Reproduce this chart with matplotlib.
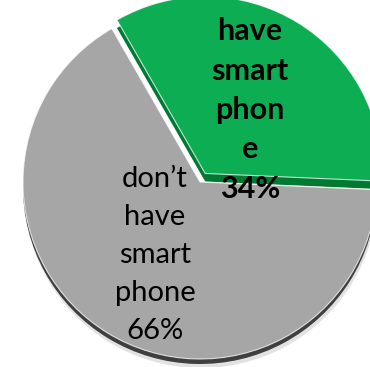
import matplotlib
matplotlib.use("Agg")
import matplotlib.pyplot as plt

# smartphone ownership split
names = ["have\nsmart\nphon\ne", "don\u2019t\nhave\nsmart\nphone"]
shares = [34, 66]
top_colors = ["#0DAE53", "#A6A6A6"]
side_colors = ["#007A32", "#3F3F3F"]
label_weights = ["bold", "normal"]
label_sizes = [22, 21]

W, H = 370, 367
fig = plt.figure(figsize=(W / 100, H / 100), dpi=100)
ax = fig.add_axes([0, 0, 1, 1])

cx, cy = 200, 185
radius = 177
start = -2.5
explode = [10, 0]  # data units (pixels here)

def draw_pie(center, colors, **wprops):
    wedges, _ = ax.pie(shares, center=center, radius=radius, startangle=start,
                       explode=explode, colors=colors, wedgeprops=wprops)
    return wedges

# soft shadow and the thick "3d" sides, then the top faces
shadow = draw_pie((cx + 1, cy - 9), ["#e2e2e2"] * 2, linewidth=0)
gray_side = draw_pie((cx, cy - 5), side_colors, linewidth=0)
green_side = draw_pie((cx, cy - 8), side_colors, linewidth=0)
tops = draw_pie((cx, cy), top_colors, linewidth=0.8, edgecolor=(1, 1, 1, 0.75))

for w in shadow:
    w.set_zorder(1)
gray_side[0].set_visible(False)
gray_side[1].set_zorder(2)
green_side[1].set_visible(False)
green_side[0].set_zorder(3)
tops[1].set_zorder(4)
tops[0].set_zorder(5)

label_pos = [(250, 257), (155, 112)]
for name, share, (x, y), wt, fs in zip(names, shares, label_pos, label_weights, label_sizes):
    ax.text(x, y, f"{name}\n{share}%", ha="center", va="center", multialignment="center",
            fontsize=fs, fontweight=wt, family="Lato", linespacing=1.57 * 21 / fs,
            color="black", zorder=10)

ax.set_xlim(0, W)
ax.set_ylim(0, H)
ax.set_aspect("equal")
ax.axis("off")

fig.savefig("out.png", dpi=100, facecolor="white")
